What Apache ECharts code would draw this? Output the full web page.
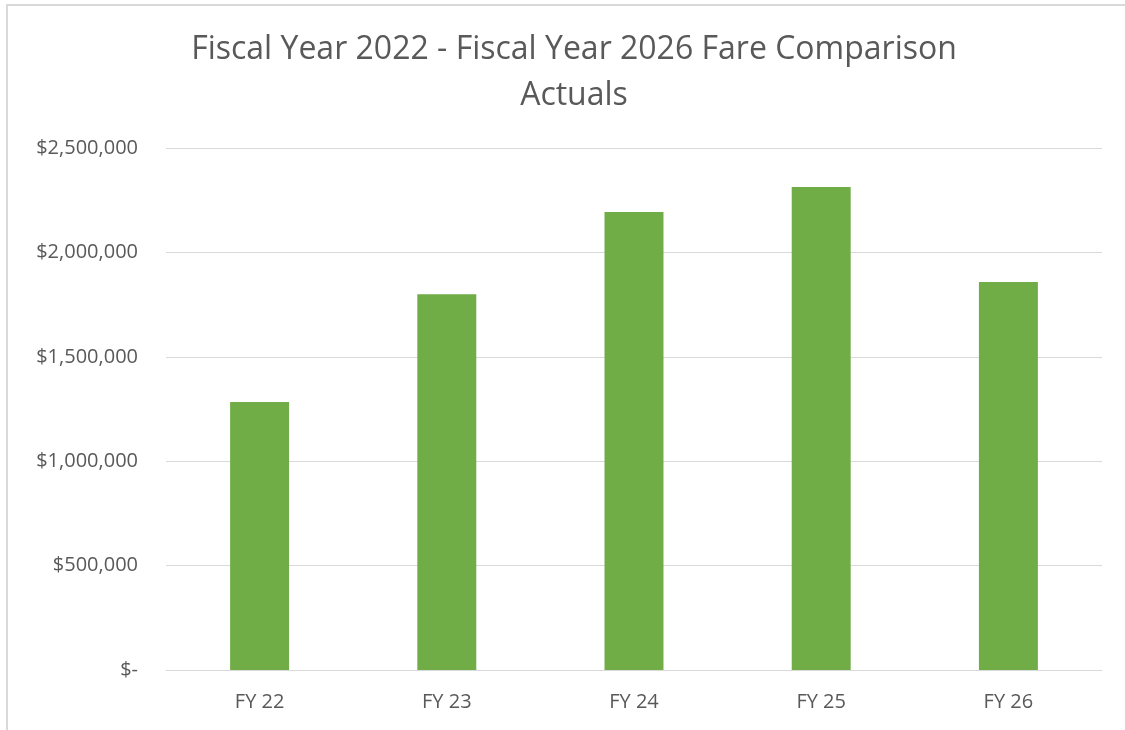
<!DOCTYPE html>
<html>
<head>
<meta charset="utf-8">
<script src="https://cdn.jsdelivr.net/npm/echarts@6/dist/echarts.min.js"></script>
<style>
  html, body { margin: 0; padding: 0; background: #fff; }
  #frame { position: absolute; left: 6px; top: 4px; width: 1130px; height: 740px; border: 2px solid #d9d9d9; box-sizing: border-box; }
  #chart { position: absolute; left: 0; top: 0; width: 1125px; height: 730px; }
</style>
</head>
<body>
<div id="frame"></div>
<div id="chart"></div>
<script>
// fiscal years shown on the x axis
const categories = ['FY 22', 'FY 23', 'FY 24', 'FY 25', 'FY 26'];
// fare actuals
const fareActuals = [1283000, 1800000, 2193000, 2313000, 1858000];
const yTicks = [0, 500000, 1000000, 1500000, 2000000, 2500000];

const textColor = '#595959';
const fontFamily = '"Open Sans", "Noto Sans", sans-serif';

function money(v) {
    if (v === 0) return '$-';
    return '$' + v.toLocaleString('en-US');
}

let myChart = echarts.init(document.getElementById('chart'));
myChart.setOption({
    animation: false,
    title: {
        text: 'Fiscal Year 2022 - Fiscal Year 2026 Fare Comparison\nActuals',
        left: 569,
        textAlign: 'center',
        top: 22,
        textStyle: {
            color: textColor,
            fontFamily: fontFamily,
            fontWeight: 'normal',
            fontSize: 32,
            lineHeight: 46
        }
    },
    grid: { left: 166, right: 23, top: 148, bottom: 60 },
    xAxis: {
        type: 'category',
        data: categories,
        axisLine: { show: true, lineStyle: { color: '#d9d9d9', width: 1 } },
        axisTick: { show: false },
        axisLabel: { color: textColor, fontFamily: fontFamily, fontSize: 20, margin: 22 }
    },
    yAxis: {
        type: 'value',
        min: yTicks[0],
        max: yTicks[yTicks.length - 1],
        interval: yTicks[1] - yTicks[0],
        axisLine: { show: false },
        axisTick: { show: false },
        splitLine: { lineStyle: { color: '#d9d9d9', width: 1 } },
        axisLabel: {
            color: textColor, fontFamily: fontFamily, fontSize: 20, margin: 28,
            formatter: money
        }
    },
    series: [
        {
            type: 'bar',
            data: fareActuals,
            barWidth: '31.5%',
            itemStyle: { color: '#70ad47' }
        }
    ]
});
</script>
</body>
</html>
